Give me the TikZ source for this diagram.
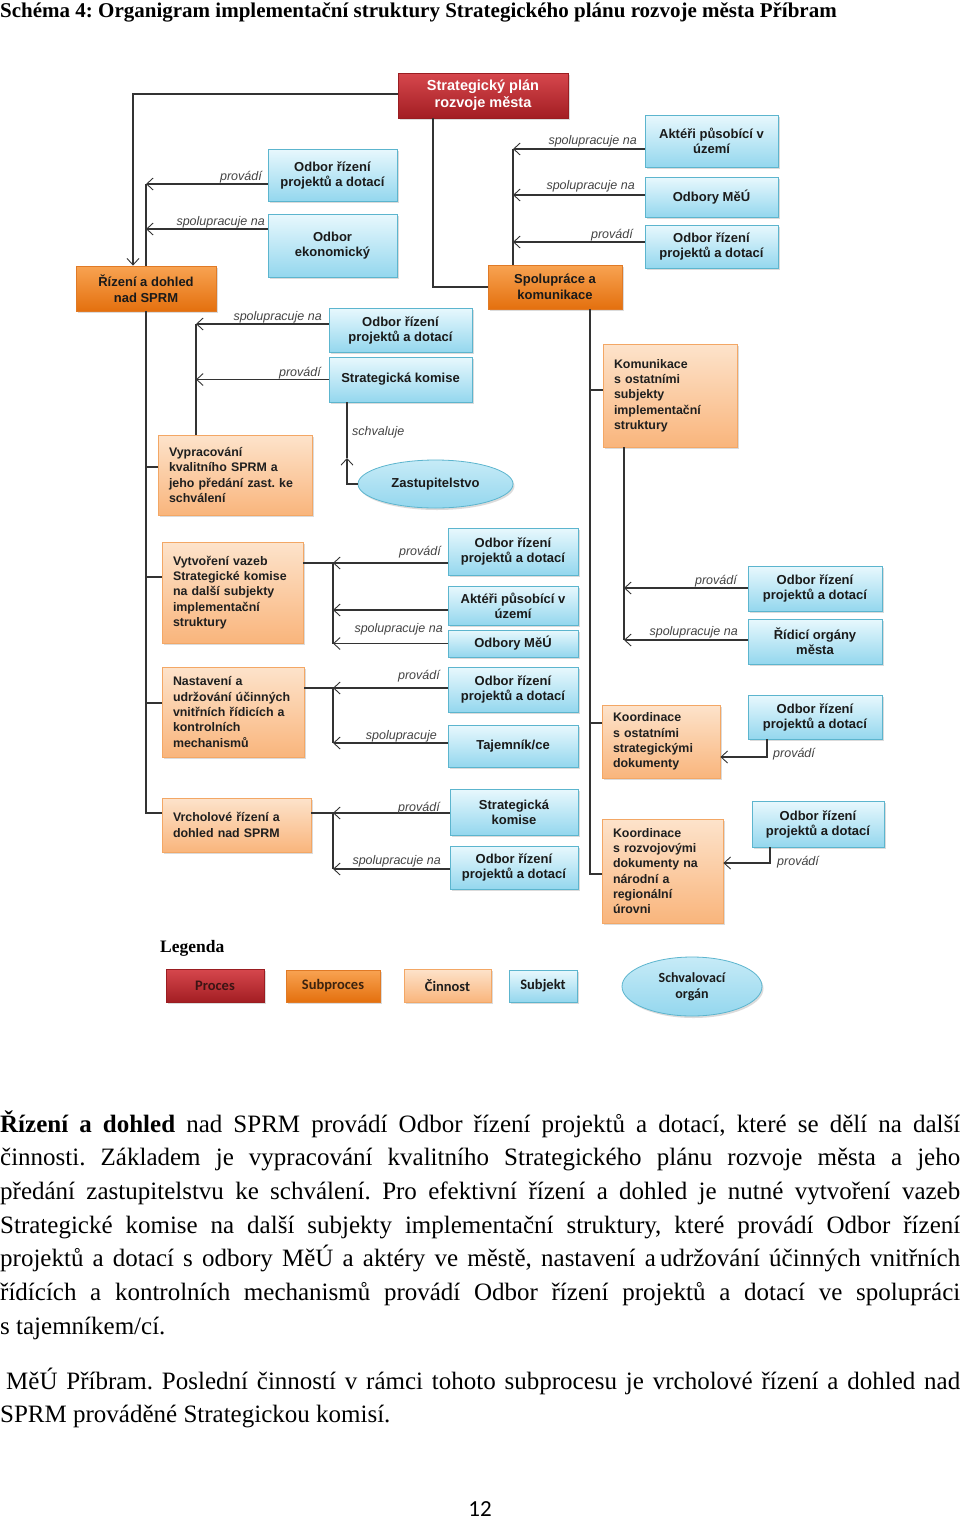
\documentclass[tikz,border=0pt]{standalone}
\usepackage{fontspec}
\setmainfont{Liberation Serif}
\setsansfont{Liberation Sans}
\newfontfamily\legfont{Carlito}
\usetikzlibrary{arrows.meta,shapes.geometric,shadows,calc}
\frenchspacing
\definecolor{linec}{HTML}{333333}
\definecolor{labc}{HTML}{444444}
\definecolor{ra}{HTML}{D6474D}
\definecolor{rb}{HTML}{A31E23}
\definecolor{rc}{HTML}{9A1D21}
\definecolor{oa}{HTML}{F8A352}
\definecolor{ob}{HTML}{E4700E}
\definecolor{oc}{HTML}{E07A26}
\definecolor{pa}{HTML}{FDE3CB}
\definecolor{pb}{HTML}{F9B57C}
\definecolor{pc}{HTML}{F3A765}
\definecolor{ba}{HTML}{E8F8FD}
\definecolor{bb}{HTML}{94D7EE}
\definecolor{bc}{HTML}{5CB5CE}
\definecolor{txt}{HTML}{1A1A1A}
\tikzset{
  ln/.style={draw=linec, line width=1.2pt},
  arr/.style={ln, -{Straight Barb[length=6.5pt,width=12pt,line width=0.9pt]}},
  lab/.style={font=\sffamily\itshape\fontsize{12.5}{14}\selectfont, text=labc, inner sep=0pt},
  wh/.style 2 args={minimum width=#1pt, minimum height=#2pt},
  shd/.style={drop shadow={shadow xshift=1.5pt, shadow yshift=-2pt, opacity=0.28}},
  boxbase/.style={rectangle, inner sep=0pt, align=center, line width=0.8pt, shd,
    font=\sffamily\bfseries\fontsize{13}{15}\selectfont, text=txt},
  proc/.style={boxbase, top color=ra, bottom color=rb, draw=rc, text=white,
    font=\sffamily\bfseries\fontsize{14.5}{17}\selectfont},
  subp/.style={boxbase, top color=oa, bottom color=ob, draw=oc, font=\sffamily\bfseries\fontsize{13}{16}\selectfont},
  cinn/.style={boxbase, top color=pa, bottom color=pb, draw=pc, align=left, inner xsep=11pt,
    font=\sffamily\bfseries\fontsize{12.4}{15.3}\selectfont, text=black!88},
  subj/.style={boxbase, top color=ba, bottom color=bb, draw=bc},
  schv/.style={ellipse, inner sep=0pt, align=center, line width=0.8pt, shd, top color=ba!60!bb, bottom color=bb, draw=bc,
    font=\sffamily\bfseries\fontsize{13}{15}\selectfont, text=txt},
  legt/.style={font=\legfont\bfseries\fontsize{14.5}{16}\selectfont},
  body/.style={anchor=base west, inner sep=0pt, font=\fontsize{25}{33.7}\selectfont}
}
\begin{document}
\begin{tikzpicture}[x=1pt,y=-1pt]
\useasboundingbox (0,0) rectangle (960,1521);
\fill[white] (0,0) rectangle (960,1521);

\node[anchor=base west, inner sep=0pt, font=\bfseries\fontsize{21}{24}\selectfont] (title) at (0,17) {Schéma 4: Organigram implementační struktury Strategického plánu rozvoje města Příbram};

% ---------- nodes: top ----------
\node[proc, wh={170}{45}] (sp) at (483,95.5) {Strategický plán\\rozvoje města};
\node[subj, wh={129}{52}] (o1) at (332.5,175) {Odbor řízení\\projektů a dotací};
\node[subj, wh={129}{63}] (ek) at (332.5,245.5) {Odbor\\ekonomický};
\node[subp, wh={140}{45}] (riz) at (146,288.5) {Řízení a dohled\\nad SPRM};
\node[subj, wh={143}{44}] (o2) at (400.5,330) {Odbor řízení\\projektů a dotací};
\node[subj, wh={143}{45}] (sk1) at (400.5,379.5) {Strategická komise};
\node[cinn, text width=132pt, minimum height=80pt] (vyp) at (235,475) {Vypracování\\kvalitního SPRM a\\jeho předání zast. ke\\schválení};
\node[schv, minimum width=155pt, minimum height=48pt] (zast) at (435.5,484) {Zastupitelstvo};

% ---------- nodes: middle ----------
\node[cinn, text width=119pt, minimum height=101pt] (vyt) at (232.5,592.5) {Vytvoření vazeb\\Strategické komise\\na další subjekty\\implementační\\struktury};
\node[subj, wh={130}{47}] (o3) at (513,551.5) {Odbor řízení\\projektů a dotací};
\node[subj, wh={130}{39}] (ak2) at (513,605.5) {Aktéři působící v\\území};
\node[subj, wh={130}{27}] (mu2) at (513,643.5) {Odbory MěÚ};
\node[cinn, text width=120pt, minimum height=90pt] (nas) at (233,712) {Nastavení a\\udržování účinných\\vnitřních řídicích a\\kontrolních\\mechanismů};
\node[subj, wh={130}{45}] (o4) at (513,689.5) {Odbor řízení\\projektů a dotací};
\node[subj, wh={130}{42}] (tj) at (513,746) {Tajemník/ce};
\node[cinn, text width=127pt, minimum height=54pt] (vrch) at (236.5,825) {Vrcholové řízení a\\dohled nad SPRM};
\node[subj, wh={128}{46}] (sk2) at (514,812) {Strategická\\komise};
\node[subj, wh={128}{43}] (o5) at (514,867.5) {Odbor řízení\\projektů a dotací};

% ---------- nodes: right ----------
\node[subp, wh={134}{44}] (spol) at (555,287) {Spolupráce a\\komunikace};
\node[subj, wh={133}{52}] (ak1) at (711.5,141) {Aktéři působící v\\území};
\node[subj, wh={133}{40}] (mu1) at (711.5,197) {Odbory MěÚ};
\node[subj, wh={133}{43}] (o6) at (711.5,246.5) {Odbor řízení\\projektů a dotací};
\node[cinn, text width=112pt, minimum height=103pt] (kom) at (670,395.5) {Komunikace\\s ostatními\\subjekty\\implementační\\struktury};
\node[subj, wh={134}{45}] (o7) at (815,588.5) {Odbor řízení\\projektů a dotací};
\node[subj, wh={134}{45}] (ro) at (815,641.5) {Řídicí orgány\\města};
\node[cinn, text width=96pt, minimum height=73pt] (ko) at (661,741.5) {Koordinace\\s ostatními\\strategickými\\dokumenty};
\node[subj, wh={134}{44}] (o8) at (815,717) {Odbor řízení\\projektů a dotací};
\node[cinn, text width=99pt, minimum height=104pt] (kr) at (662.5,871) {Koordinace\\s rozvojovými\\dokumenty na\\národní a\\regionální\\úrovni};
\node[subj, wh={132}{46}] (o9) at (818,824) {Odbor řízení\\projektů a dotací};

% ---------- connectors ----------
\draw[arr] (sp.west |- 0,94) -| (133,0 |- riz.north);
\draw[ln] (433,0 |- sp.south) |- (spol.west);

\draw[ln] (riz.north) -- (riz.north |- 0,184);
\draw[arr] (o1.west |- 0,184) -- (riz.north |- 0,184);
\draw[arr] (ek.west |- 0,229) -- (riz.north |- 0,229);

\draw[ln] (riz.south) -- (riz.south |- 0,813) -- (vrch.west |- 0,813);
\draw[ln] (riz.south |- 0,467) -- (vyp.west |- 0,467);
\draw[ln] (riz.south |- 0,577) -- (vyt.west |- 0,577);
\draw[ln] (riz.south |- 0,703) -- (nas.west |- 0,703);

\draw[ln] (196,0 |- vyp.north) -- (196,324);
\draw[arr] (o2.west |- 0,324) -- (196,324);
\draw[arr] (sk1.west) -- (196,0 |- sk1.west);

\draw[arr] (zast.west) -| (347,458);
\draw[ln] (347,458) -- (347,0 |- sk1.south);

\coordinate (j1) at (333,563);
\draw[ln] (vyt.east |- j1) -- (j1) -- (333,643.5);
\draw[arr] (o3.west |- j1) -- (j1);
\draw[arr] (ak2.west |- 0,610) -- (333,610);
\draw[arr] (mu2.west) -- (333,0 |- mu2.west);

\coordinate (j2) at (333,688);
\draw[ln] (nas.east |- j2) -- (j2) -- (333,743);
\draw[arr] (o4.west |- j2) -- (j2);
\draw[arr] (tj.west |- 0,743) -- (333,743);

\coordinate (j3) at (333,813);
\draw[ln] (vrch.east |- j3) -- (j3) -- (333,869);
\draw[arr] (sk2.west |- j3) -- (j3);
\draw[arr] (o5.west |- 0,869) -- (333,869);

\draw[ln] (spol.north -| 513,0) -- (513,149);
\draw[arr] (ak1.west |- 0,149) -- (513,149);
\draw[arr] (mu1.west |- 0,195) -- (513,195);
\draw[arr] (o6.west |- 0,242) -- (513,242);

\draw[ln] (spol.south -| 590,0) -- (590,874) -- (kr.west |- 0,874);
\draw[ln] (590,390) -- (kom.west |- 0,390);
\draw[ln] (590,723) -- (ko.west |- 0,723);

\draw[ln] (kom.south -| 624,0) -- (624,640);
\draw[arr] (o7.west |- 0,588) -- (624,588);
\draw[arr] (ro.west |- 0,640) -- (624,640);

\draw[arr] (o8.south -| 767,0) |- (ko.east |- 0,757);
\draw[arr] (o9.south -| 770,0) |- (kr.east |- 0,863);

% ---------- labels ----------
\node[lab, anchor=base east] (l1) at (262,180) {provádí};
\node[lab, anchor=base east] (l2) at (265,225) {spolupracuje na};
\node[lab, anchor=base east] (l3) at (322,320) {spolupracuje na};
\node[lab, anchor=base east] (l4) at (321,376) {provádí};
\node[lab, anchor=base west] (l5) at (352,435) {schvaluje};
\node[lab, anchor=base east] (l6) at (441,555) {provádí};
\node[lab, anchor=base east] (l7) at (443,632) {spolupracuje na};
\node[lab, anchor=base east] (l8) at (440,679) {provádí};
\node[lab, anchor=base east] (l9) at (437,739) {spolupracuje};
\node[lab, anchor=base east] (l10) at (440,811) {provádí};
\node[lab, anchor=base east] (l11) at (441,864) {spolupracuje na};
\node[lab, anchor=base east] (l12) at (637,144) {spolupracuje na};
\node[lab, anchor=base east] (l13) at (635,189) {spolupracuje na};
\node[lab, anchor=base east] (l14) at (633,238) {provádí};
\node[lab, anchor=base east] (l15) at (737,584) {provádí};
\node[lab, anchor=base east] (l16) at (738,635) {spolupracuje na};
\node[lab, anchor=base west] (l17) at (773,757) {provádí};
\node[lab, anchor=base west] (l18) at (777,865) {provádí};

% ---------- legend ----------
\node[anchor=base west, inner sep=0pt, font=\bfseries\fontsize{17.5}{20}\selectfont] (leg) at (160,952) {Legenda};
\node[proc, legt, wh={98}{33}, text={rgb,255:red,60;green,20;blue,20}] (lp) at (215,985.5) {Proces};
\node[subp, legt, wh={94}{32}, text={rgb,255:red,60;green,35;blue,15}] (ls) at (333,986) {Subproces};
\node[cinn, legt, align=center, inner xsep=0pt, minimum width=87pt, minimum height=33pt] (lc) at (447.5,985.5) {Činnost};
\node[subj, legt, wh={68}{32}] (lj) at (543,986) {Subjekt};
\node[schv, legt, minimum width=140pt, minimum height=59pt, font=\legfont\bfseries\fontsize{14}{16}\selectfont] (le) at (692,986.5) {Schvalovací\\orgán};

% ---------- body text ----------
\node[body] (b1) at (0,1132) {\makebox[960pt][s]{\textbf{Řízení a dohled} nad SPRM provádí Odbor řízení projektů a dotací, které se dělí na další}};
\node[body] (b2) at (0,1165.7) {\makebox[960pt][s]{činnosti. Základem je vypracování kvalitního Strategického plánu rozvoje města a jeho}};
\node[body] (b3) at (0,1199.4) {\makebox[960pt][s]{předání zastupitelstvu ke schválení. Pro efektivní řízení a dohled je nutné vytvoření vazeb}};
\node[body] (b4) at (0,1233.1) {\makebox[960pt][s]{Strategické komise na další subjekty implementační struktury, které provádí Odbor řízení}};
\node[body] (b5) at (0,1266.8) {\makebox[960pt][s]{projektů a dotací s odbory MěÚ a aktéry ve městě, nastavení a\,udržování účinných vnitřních}};
\node[body] (b6) at (0,1300.5) {\makebox[960pt][s]{řídících a kontrolních mechanismů provádí Odbor řízení projektů a dotací ve spolupráci}};
\node[body] (b7) at (0,1334.2) {s tajemníkem/cí.};
\node[body] (b8) at (0,1389) {\makebox[960pt][s]{\hspace*{6pt}MěÚ Příbram. Poslední činností v rámci tohoto subprocesu je vrcholové řízení a dohled nad}};
\node[body] (b9) at (0,1422.7) {SPRM prováděné Strategickou komisí.};
\node[anchor=base, inner sep=0pt, font=\legfont\fontsize{23}{26}\selectfont] (pg) at (480,1516) {12};
\end{tikzpicture}
\end{document}
